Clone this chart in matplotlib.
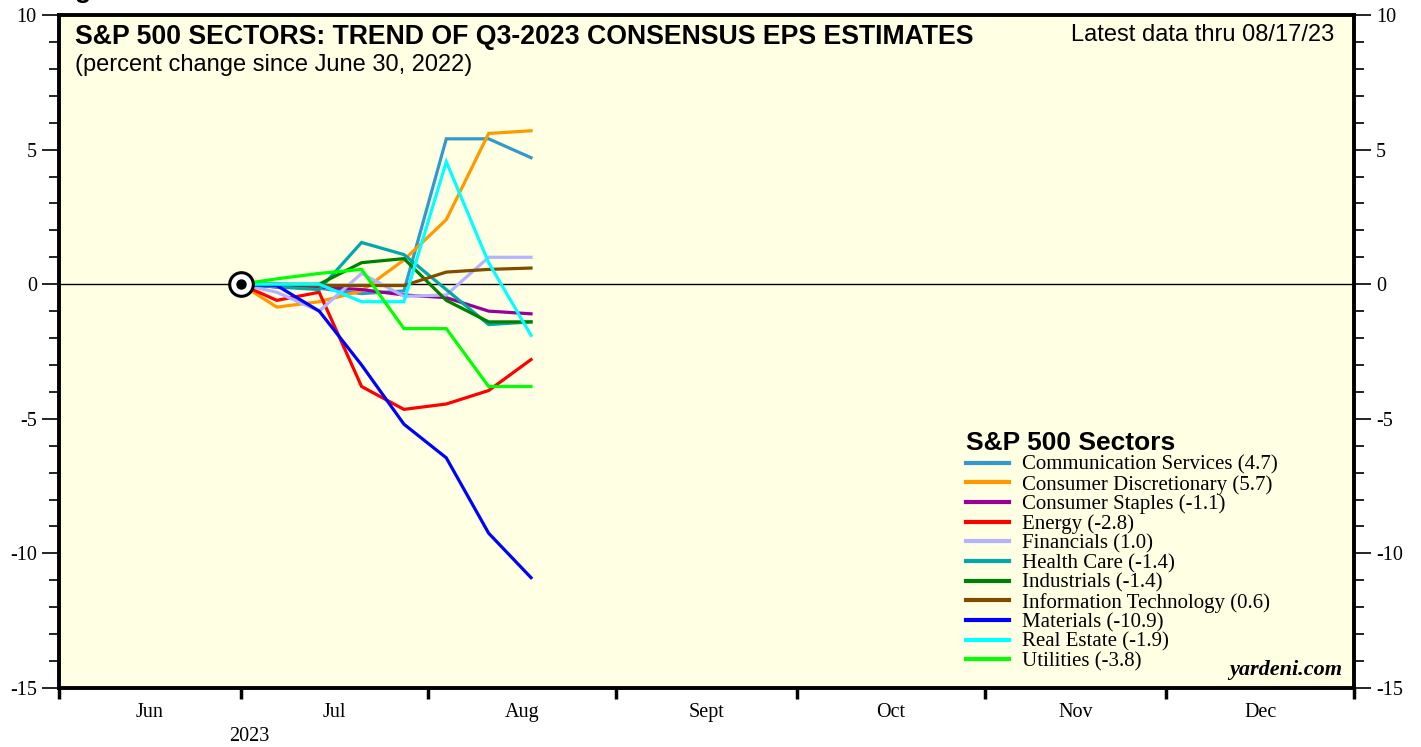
import numpy as np
import pandas as pd
import matplotlib
matplotlib.use("Agg")
import matplotlib.pyplot as plt
import matplotlib.dates as mdates
from matplotlib.ticker import MultipleLocator, FixedLocator, NullFormatter

plt.rcParams["axes.unicode_minus"] = False

# DATA (weekly, percent change since June 30)
dates = pd.to_datetime(["2023-06-30", "2023-07-06", "2023-07-13", "2023-07-20",
                        "2023-07-27", "2023-08-03", "2023-08-10", "2023-08-17"])

sectors = ["Communication Services", "Consumer Discretionary", "Consumer Staples",
           "Energy", "Financials", "Health Care", "Industrials",
           "Information Technology", "Materials", "Real Estate", "Utilities"]

comm_services = [0, -0.1, -0.15, -0.35, -0.25, 5.4, 5.4, 4.7]
cons_discr = [0, -0.85, -0.65, -0.25, 0.9, 2.4, 5.6, 5.7]
cons_staples = [0, -0.1, -0.1, -0.2, -0.4, -0.5, -1.0, -1.1]
energy = [0, -0.6, -0.3, -3.8, -4.65, -4.45, -3.95, -2.8]
financials = [0, -0.3, -1.0, 0.4, -0.45, -0.4, 1.0, 1.0]
health_care = [0, -0.1, -0.2, 1.55, 1.1, -0.2, -1.5, -1.4]
industrials = [0, 0, 0, 0.8, 0.95, -0.6, -1.4, -1.4]
info_tech = [0, 0, -0.05, -0.05, -0.05, 0.45, 0.55, 0.6]
materials = [0, -0.05, -1.0, -3.0, -5.2, -6.45, -9.25, -10.9]
real_estate = [0, 0, 0, -0.65, -0.65, 4.55, 0.8, -1.9]
utilities = [0, 0.2, 0.4, 0.55, -1.65, -1.65, -3.8, -3.8]

series = [comm_services, cons_discr, cons_staples, energy, financials, health_care,
          industrials, info_tech, materials, real_estate, utilities]
colors = ["#3399CC", "#FF9900", "#990099", "#FF0000", "#B3B3FF", "#00A8A8",
          "#008000", "#7F4C00", "#0000FF", "#00FFFF", "#00FF00"]

month_labels = ["Jun", "Jul", "Aug", "Sept", "Oct", "Nov", "Dec"]
month_ends = pd.to_datetime(["2023-05-31", "2023-06-30", "2023-07-31", "2023-08-31",
                             "2023-09-30", "2023-10-31", "2023-11-30", "2023-12-31"])

# FIGURE
fig = plt.figure(figsize=(14.21, 7.47), dpi=100)
ax = fig.add_axes([59 / 1421, 1 - 688 / 747, (1354 - 59) / 1421, (688 - 15) / 747])
ax.set_facecolor("#FFFFE3")

ax.axhline(0, color="black", lw=1.0, zorder=2)

for vals, col, name in zip(series, colors, sectors):
    ax.plot(dates, vals, color=col, lw=2.3, solid_joinstyle="miter", zorder=3,
            label=f"{name} ({vals[-1]:.1f})")

# reference point marker
ax.plot(dates[0], 0, marker="o", ms=17, mfc="white", mec="black", mew=2.2, zorder=5)
ax.plot(dates[0], 0, marker="o", ms=6.5, mfc="black", mec="black", zorder=6)

ax.set_ylim(-15, 10)
ax.set_xlim(month_ends[0], month_ends[-1])

# y ticks on both sides
ax.yaxis.set_major_locator(MultipleLocator(5))
ax.yaxis.set_minor_locator(MultipleLocator(1))
ax.tick_params(axis="y", which="both", left=True, right=True, labelleft=True,
               labelright=True, direction="out", width=1.2)
ax.tick_params(axis="y", which="major", length=12, pad=4)
ax.tick_params(axis="y", which="minor", length=7)
for lab in ax.get_yticklabels():
    lab.set_fontfamily("Liberation Serif")
    lab.set_fontsize(14.5)

# x ticks: marks at month ends, labels at mid month
ax.xaxis.set_major_locator(FixedLocator(mdates.date2num(month_ends)))
ax.xaxis.set_major_formatter(NullFormatter())
mids = month_ends[:-1] + (month_ends[1:] - month_ends[:-1]) / 2
ax.set_xticks(mdates.date2num(mids), month_labels, minor=True,
              fontfamily="Liberation Serif", fontsize=14.5)
ax.tick_params(axis="x", which="major", direction="out", length=8, width=2.5)
ax.tick_params(axis="x", which="minor", length=0, pad=11)
ax.text(mdates.date2num(month_ends[1]) + 1.5, -0.058, "2023", transform=ax.get_xaxis_transform(),
        ha="center", va="top", fontfamily="Liberation Serif", fontsize=14.5)

for sp in ax.spines.values():
    sp.set_linewidth(2.8)

# titles
ax.text(0.012, 0.986, "S&P 500 SECTORS: TREND OF Q3-2023 CONSENSUS EPS ESTIMATES",
        transform=ax.transAxes, ha="left", va="top", fontsize=19.2, fontweight="bold",
        fontfamily="Liberation Sans")
ax.text(0.012, 0.942, "(percent change since June 30, 2022)", transform=ax.transAxes,
        ha="left", va="top", fontsize=17, fontfamily="Liberation Sans")
ax.text(0.985, 0.986, "Latest data thru 08/17/23", transform=ax.transAxes,
        ha="right", va="top", fontsize=17, fontfamily="Liberation Sans")
fig.text(0.053, 0.996, "g", ha="left", va="bottom", fontsize=19, fontweight="bold",
         fontfamily="Liberation Sans")

leg = ax.legend(loc="lower left", bbox_to_anchor=(0.6925, 0.009), frameon=False,
                prop={"family": "Liberation Serif", "size": 15}, handlelength=2.05,
                handletextpad=0.65, labelspacing=0.0, borderpad=0.0,
                title="S&P 500 Sectors",
                title_fontproperties={"family": "Liberation Sans", "weight": "bold", "size": 19})
leg._legend_box.align = "left"
for h in leg.get_lines():
    h.set_linewidth(3.0)

ax.text(0.991, 0.012, "yardeni.com", transform=ax.transAxes, ha="right", va="bottom",
        fontsize=16, fontweight="bold", fontstyle="italic", fontfamily="Liberation Serif")

fig.savefig("out.png", dpi=100)
